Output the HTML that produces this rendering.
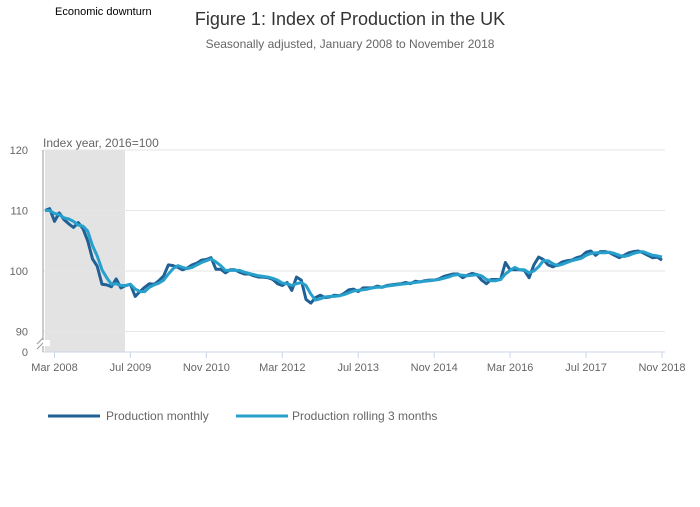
<!DOCTYPE html>
<html><head><meta charset="utf-8"><style>
body{margin:0;background:#fff;font-family:"Liberation Sans",sans-serif;}
svg text{font-family:"Liberation Sans",sans-serif;}
</style></head><body>
<svg id="chart" width="700" height="502">
<text x="55" y="15" font-size="11" fill="#000">Economic downturn</text>
<text x="350" y="25" font-size="18" fill="#333" text-anchor="middle">Figure 1: Index of Production in the UK</text>
<text x="350" y="48" font-size="12" fill="#666" text-anchor="middle">Seasonally adjusted, January 2008 to November 2018</text>
<rect x="45" y="150" width="80" height="202" fill="#e3e3e3"/>
<g id="grid"></g>
<text x="43" y="147" font-size="12" fill="#666">Index year, 2016=100</text>
<line x1="43" y1="150" x2="43" y2="352" stroke="#999" stroke-width="1"/>
<g><rect x="36" y="340" width="14" height="6" fill="#fff"/><line x1="37" y1="344" x2="43" y2="338" stroke="#999"/><line x1="37" y1="349" x2="43" y2="343" stroke="#999"/></g>
<line x1="43" y1="352" x2="665" y2="352" stroke="#ccd6eb"/>
<text x="28" y="356" font-size="11" fill="#666" text-anchor="end">0</text>
<g id="xt"></g>
<g id="series"></g>
<line x1="48" y1="416" x2="100" y2="416" stroke="#206095" stroke-width="3"/>
<text x="106" y="420" font-size="12" fill="#666">Production monthly</text>
<line x1="236" y1="416" x2="288" y2="416" stroke="#27a0cc" stroke-width="3"/>
<text x="292" y="420" font-size="12" fill="#666">Production rolling 3 months</text>
</svg>
<script>
const yTicks=[90,100,110,120];
const xTickLabels=["Mar 2008","Jul 2009","Nov 2010","Mar 2012","Jul 2013","Nov 2014","Mar 2016","Jul 2017","Nov 2018"];
const xTickMonths=[2,18,34,50,66,82,98,114,130];
const monthly=[110.0,110.3,108.2,109.6,108.5,107.8,107.2,108.0,107.0,105.0,102.0,100.8,
97.8,97.7,97.4,98.7,97.2,97.6,97.8,95.8,96.6,97.3,97.9,97.8,
98.4,99.2,101.0,100.9,100.6,100.2,100.5,101.0,101.3,101.8,101.9,102.2,
100.3,100.3,99.7,100.2,100.2,99.8,99.5,99.5,99.2,99.0,99.0,98.9,
98.6,97.9,97.6,98.1,96.8,99.0,98.5,95.3,94.7,95.6,96.0,95.6,
95.7,96.0,95.9,96.3,96.9,97.0,96.6,97.2,97.2,97.2,97.5,97.3,
97.6,97.7,97.8,97.9,98.1,97.9,98.3,98.2,98.4,98.5,98.5,98.7,
99.1,99.3,99.5,99.5,98.9,99.3,99.6,99.4,98.5,97.9,98.6,98.6,
98.6,101.4,100.2,100.2,100.2,100.1,98.9,101.0,102.3,101.9,101.0,100.7,
101.0,101.5,101.7,101.8,102.2,102.4,103.1,103.3,102.6,103.2,103.2,103.0,
102.6,102.2,102.6,103.0,103.2,103.3,103.0,102.6,102.2,102.3,101.8];
const rolling=[110.0,110.0,109.5,109.3,108.8,108.6,108.2,107.6,107.4,106.6,104.2,102.5,
100.2,98.9,97.8,97.9,97.6,97.6,97.8,97.0,96.6,96.6,97.3,97.7,
98.0,98.5,99.5,100.4,100.9,100.6,100.4,100.6,101.0,101.4,101.7,102.0,
101.5,100.9,100.1,100.1,100.1,100.1,99.8,99.6,99.4,99.2,99.1,99.0,
98.8,98.5,98.0,97.9,97.6,97.9,98.1,97.6,96.2,95.2,95.4,95.7,
95.8,95.8,95.9,96.1,96.4,96.7,96.8,96.9,97.0,97.2,97.3,97.3,
97.5,97.6,97.7,97.8,97.9,98.0,98.1,98.2,98.3,98.4,98.5,98.6,
98.8,99.0,99.3,99.4,99.3,99.2,99.3,99.4,99.2,98.6,98.4,98.4,
98.6,99.5,100.1,100.6,100.2,100.2,99.7,100.0,100.7,101.7,101.7,101.2,
100.9,101.1,101.4,101.7,101.9,102.1,102.6,102.9,103.0,103.0,103.0,103.1,
102.9,102.6,102.4,102.6,102.9,103.1,103.2,102.9,102.6,102.5,102.3];
const NS="http://www.w3.org/2000/svg";
function xs(m){return 45+m*(617/130);}
function ys(v){return 271-(v-100)*6.05;}
const grid=document.getElementById('grid');
yTicks.forEach(t=>{
  const l=document.createElementNS(NS,'line');
  l.setAttribute('x1',43);l.setAttribute('x2',665);l.setAttribute('y1',ys(t));l.setAttribute('y2',ys(t));
  l.setAttribute('stroke','#e6e6e6');
  
  
  grid.appendChild(l);
  const tx=document.createElementNS(NS,'text');
  tx.setAttribute('x',28);tx.setAttribute('y',ys(t)+4);tx.setAttribute('font-size','11');tx.setAttribute('fill','#666');tx.setAttribute('text-anchor','end');
  tx.textContent=t;
  
  
  grid.appendChild(tx);
});
const xt=document.getElementById('xt');
xTickLabels.forEach((lab,i)=>{
  const x=xs(xTickMonths[i]);
  const l=document.createElementNS(NS,'line');
  l.setAttribute('x1',x);l.setAttribute('x2',x);l.setAttribute('y1',352);l.setAttribute('y2',358);l.setAttribute('stroke','#ccd6eb');
  
  
  xt.appendChild(l);
  const tx=document.createElementNS(NS,'text');
  tx.setAttribute('x',x);tx.setAttribute('y',371);tx.setAttribute('font-size','11');tx.setAttribute('fill','#666');tx.setAttribute('text-anchor','middle');
  tx.textContent=lab;
  
  
  xt.appendChild(tx);
});
const ser=document.getElementById('series');
function draw(arr,color,name){
  const p=document.createElementNS(NS,'path');
  p.setAttribute('d',arr.map((v,i)=>(i?'L':'M')+xs(i).toFixed(1)+','+ys(v).toFixed(1)).join(''));
  p.setAttribute('fill','none');p.setAttribute('stroke',color);p.setAttribute('stroke-width','3');p.setAttribute('stroke-linejoin','round');
  
  
  ser.appendChild(p);
}
draw(monthly,'#206095','line-production-monthly');
draw(rolling,'#27a0cc','line-production-rolling');
</script>
</body></html>
